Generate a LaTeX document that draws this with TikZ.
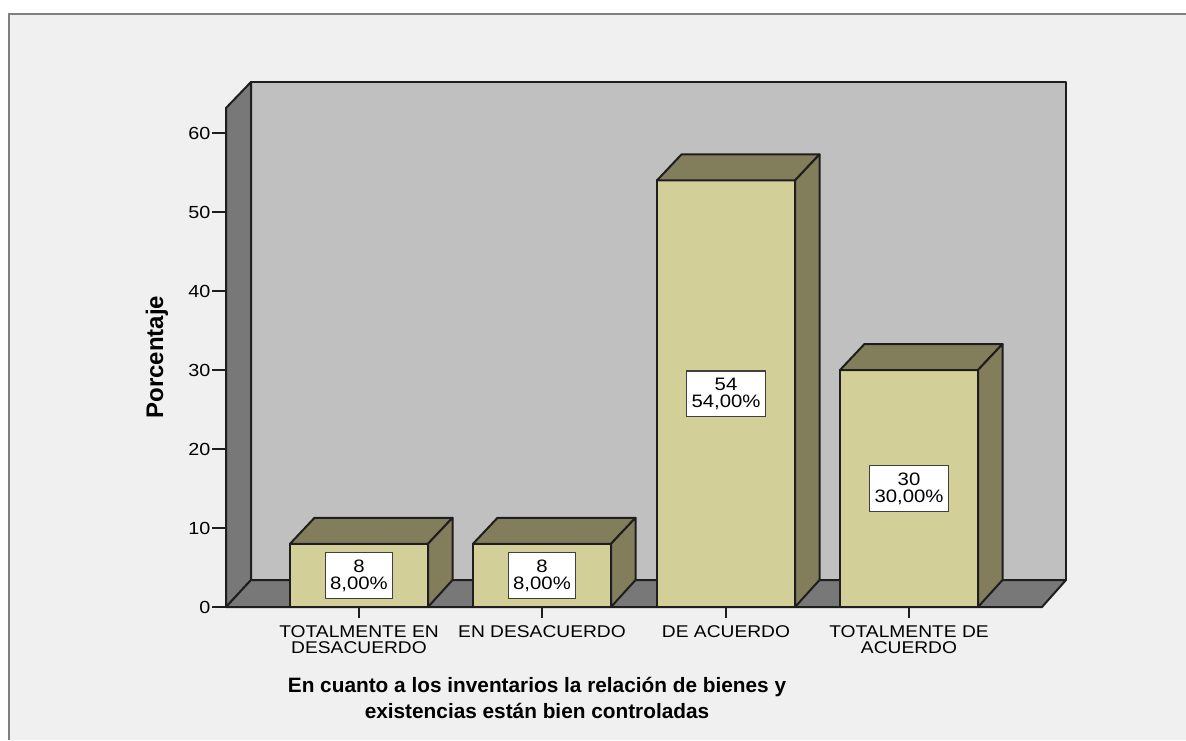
\documentclass[tikz,border=0pt]{standalone}
\usepackage{fontspec}
\setmainfont{Liberation Sans}
\newfontfamily\regfont[FakeStretch=1.13]{Liberation Sans}
\definecolor{bgc}{HTML}{F0F0F0}
\definecolor{wallback}{HTML}{C0C0C0}
\definecolor{wallside}{HTML}{787878}
\definecolor{barfront}{HTML}{D3CF98}
\definecolor{barside}{HTML}{827E5C}
\definecolor{edgec}{HTML}{1E1E1E}
\definecolor{framec}{HTML}{7F7F7F}
\begin{document}
\begin{tikzpicture}[x=1pt,y=-1pt,
  outl/.style={draw=edgec,line width=2pt,line join=round},
  ticklab/.style={anchor=east,inner sep=0pt,font=\regfont\fontsize{17.5}{17.5}\selectfont},
  catlab/.style={anchor=north,inner sep=0pt,align=center,font=\regfont\fontsize{17}{16}\selectfont},
  vallabel/.style={draw=edgec!85,line width=1.3pt,fill=white,inner xsep=5pt,inner ysep=7pt,align=center,font=\regfont\fontsize{18}{17}\selectfont},
  axtitle/.style={inner sep=0pt,font=\bfseries\fontsize{24}{24}\selectfont},
  chtitle/.style={anchor=north,inner sep=0pt,align=center,font=\bfseries\fontsize{20.8}{26}\selectfont}]
\useasboundingbox (0,0) rectangle (1186,740);
\fill[white] (0,0) rectangle (1186,740);
\fill[bgc] (9,14) rectangle (1186,740);
\draw[framec,line width=2.4pt] (9,740) -- (9,14) -- (1186,14);
% back wall
\fill[wallback] (251,82) rectangle (1066,580);
\draw[outl] (251,580) -- (251,82) -- (1066,82) -- (1066,580);
% left wall
\filldraw[outl,fill=wallside] (226,607) -- (226,108) -- (251,82) -- (251,580) -- cycle;
% floor
\filldraw[outl,fill=wallside] (226,607) -- (1042,607) -- (1066,580) -- (251,580) -- cycle;
% bars
\foreach \x/\v/\n in {290/8/a,473/8/b,657/54/c,840/30/d}{
  \pgfmathsetmacro\yt{607-7.9*\v}
  \pgfmathsetmacro\yb{\yt-26}
  \pgfmathsetmacro\xr{\x+138}
  \pgfmathsetmacro\xt{\x+24.5}
  \pgfmathsetmacro\xrt{\x+162.5}
  \filldraw[outl,fill=barfront] (\x,607) rectangle (\xr,\yt);
  \filldraw[outl,fill=barside] (\x,\yt) -- (\xt,\yb) -- (\xrt,\yb) -- (\xr,\yt) -- cycle;
  \filldraw[outl,fill=barside] (\xr,\yt) -- (\xrt,\yb) -- (\xrt,580) -- (\xr,607) -- cycle;
  \draw[outl] (\x+69,607) -- (\x+69,618);
}
% value labels
\node[vallabel] (la) at (359,575.4) {8\\8,00\%};
\node[vallabel] (lb) at (542,575.4) {8\\8,00\%};
\node[vallabel] (lc) at (726,393.7) {54\\54,00\%};
\node[vallabel] (ld) at (909,488.5) {30\\30,00\%};
% y ticks
\foreach \t in {0,10,...,60}{
  \draw[outl] (212,607-7.9*\t) -- (226,607-7.9*\t);
  \node[ticklab] (t\t) at (210.5,607-7.9*\t) {\t};
}
% category labels
\node[catlab] (ca) at (359,625) {TOTALMENTE EN\\DESACUERDO};
\node[catlab] (cb) at (542,625) {EN DESACUERDO};
\node[catlab] (cc) at (726,625) {DE ACUERDO};
\node[catlab] (cd) at (909,625) {TOTALMENTE DE\\ACUERDO};
% axis title
\node[axtitle,rotate=90] (ytitle) at (157,357) {Porcentaje};
% chart title
\node[chtitle] (title) at (537,677.5) {En cuanto a los inventarios la relación de bienes y\\existencias están bien controladas};
\end{tikzpicture}
\end{document}
